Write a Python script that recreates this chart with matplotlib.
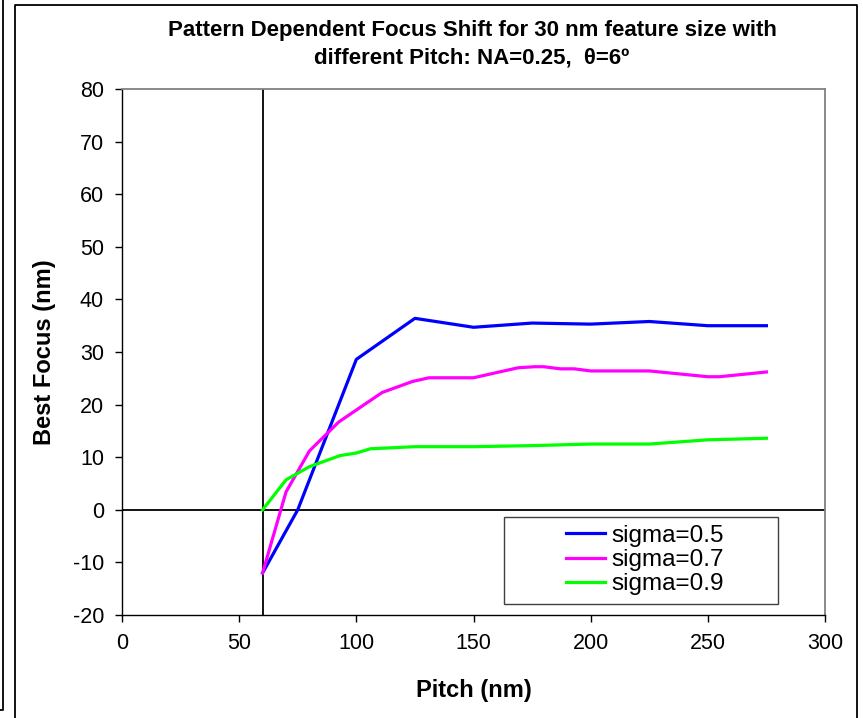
import numpy as np
import matplotlib
matplotlib.use('Agg')
import matplotlib.pyplot as plt
from matplotlib.lines import Line2D
from matplotlib.patches import Rectangle

plt.rcParams['font.family'] = ['Liberation Sans', 'DejaVu Sans']
plt.rcParams['axes.unicode_minus'] = False

# data
pitch_05 = [60, 75, 100, 125, 150, 175, 200, 225, 250, 275]
focus_05 = [-12, 0, 28.6, 36.4, 34.7, 35.5, 35.3, 35.8, 35.0, 35.0]

pitch_07 = [60, 70, 80, 92.5, 111, 124, 131, 150, 169, 176, 180, 187, 193, 200, 225, 250, 255, 275]
focus_07 = [-12, 3.4, 11.2, 16.7, 22.3, 24.4, 25.1, 25.1, 27.0, 27.2, 27.2, 26.8, 26.8, 26.4, 26.4, 25.3, 25.3, 26.2]

pitch_09 = [60, 70, 80, 93, 100, 106, 125, 150, 175, 200, 225, 250, 275]
focus_09 = [0, 5.7, 8.2, 10.3, 10.8, 11.6, 12.0, 12.0, 12.2, 12.5, 12.5, 13.3, 13.6]

labels = ['sigma=0.5', 'sigma=0.7', 'sigma=0.9']
colors = ['#0000ff', '#ff00ff', '#00ff00']

fig = plt.figure(figsize=(8.63, 7.18), dpi=100)
ax = fig.add_axes([122/863, 1-615/718, 703/863, 526/718])

ax.axvline(60, color='black', lw=1.3, zorder=1)
ax.axhline(0, color='black', lw=1.3, zorder=1)

ax.plot(pitch_05, focus_05, color=colors[0], lw=2.3, label=labels[0])
ax.plot(pitch_07, focus_07, color=colors[1], lw=2.3, label=labels[1])
ax.plot(pitch_09, focus_09, color=colors[2], lw=2.3, label=labels[2])

ax.set_xlim(0, 300)
ax.set_ylim(-20, 80)
ax.set_xticks(np.arange(0, 301, 50))
ax.set_yticks(np.arange(-20, 81, 10))
ax.tick_params(direction='out', length=5, width=1, labelsize=15.5, pad=8)
for s in ['top', 'right']:
    ax.spines[s].set_color('#808080')
    ax.spines[s].set_linewidth(1.3)
for s in ['left', 'bottom']:
    ax.spines[s].set_linewidth(1.0)

ax.set_xlabel('Pitch (nm)', fontsize=17, fontweight='bold', labelpad=18)
ax.set_ylabel('Best Focus (nm)', fontsize=17, fontweight='bold', labelpad=12)

fig.text(472/863, 1-44/718,
         'Pattern Dependent Focus Shift for 30 nm feature size with\ndifferent Pitch: NA=0.25,  θ=6º',
         ha='center', va='center', fontsize=16, fontweight='bold', linespacing=1.4)

# legend box drawn separately, legend content centred inside it
box = Rectangle((504/863, 1-604/718), 274/863, 87/718, transform=fig.transFigure,
                facecolor='white', edgecolor='#404040', lw=1.0, zorder=5, clip_on=False)
ax.add_patch(box)
leg = ax.legend(loc='center', bbox_to_anchor=(645/863, 1-560/718), bbox_transform=fig.transFigure,
                fontsize=17.5, frameon=False, handlelength=1.6, borderpad=0,
                labelspacing=0.1, handletextpad=0.25)
leg.set_zorder(6)

# outer frames
fig.add_artist(Line2D([15/863, 15/863, 857/863, 857/863], [0, 1-5/718, 1-5/718, 0],
                      transform=fig.transFigure, color='black', lw=1.3))
fig.add_artist(Line2D([0, 3/863, 3/863], [1-710/718, 1-710/718, 1],
                      transform=fig.transFigure, color='black', lw=1.3))

fig.savefig('out.png', dpi=100)
